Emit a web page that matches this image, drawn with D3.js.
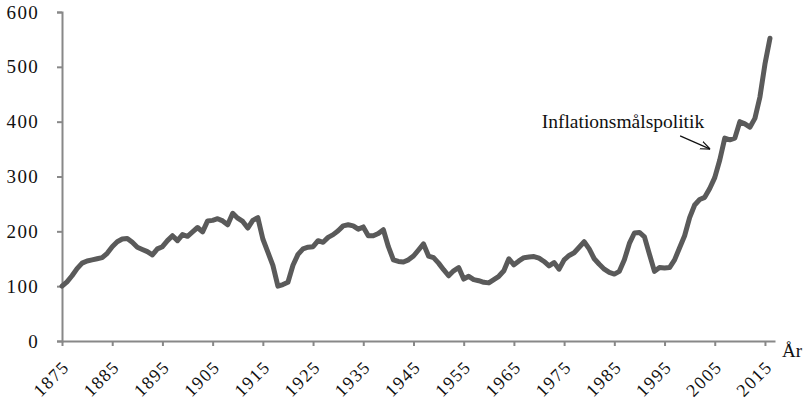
<!DOCTYPE html>
<html>
<head>
<meta charset="utf-8">
<script src="https://cdn.jsdelivr.net/npm/d3@7.9.0/dist/d3.min.js"></script>
<style>
  body { margin: 0; background: #fff; }
  svg text { font-family: 'Liberation Serif', serif; fill: #111; }
</style>
</head>
<body>
<svg id="chart" width="811" height="402"></svg>
<script>
// index value per year, 1875 = 100
const firstYear = 1875;
const values = [
  100, 108, 119, 132, 142, 146, 148, 150, 152, 160,   // 1875-1884
  172, 181, 186, 187, 180, 171, 167, 163, 157, 168,   // 1885-1894
  172, 183, 192, 183, 194, 191, 199, 207, 199, 219,   // 1895-1904
  220, 223, 219, 212, 233, 224, 218, 206, 220, 225,   // 1905-1914
  186, 162, 138, 100, 103, 107, 138, 158, 168, 171,   // 1915-1924
  172, 183, 180, 189, 194, 201, 210, 212, 210, 204,   // 1925-1934
  208, 192, 192, 196, 203, 172, 148, 145, 144, 148,   // 1935-1944
  155, 166, 177, 155, 152, 142, 130, 119, 128, 134,   // 1945-1954
  113, 118, 112, 110, 107, 106, 112, 118, 128, 150,   // 1955-1964
  139, 146, 152, 153, 154, 151, 145, 137, 143, 131,   // 1965-1974
  148, 156, 161, 171, 181, 168, 150, 140, 131, 125,   // 1975-1984
  122, 127, 148, 178, 197, 198, 190, 158, 127, 134,   // 1985-1994
  133, 134, 148, 170, 192, 225, 248, 258, 262, 278,   // 1995-2004
  298, 330, 370, 367, 370, 400, 396, 390, 406, 445,   // 2005-2014
  505, 552                                            // 2015-2016
];
const years = d3.range(firstYear, firstYear + values.length);
const xTicks = d3.range(1875, 2016, 10);
const yTicks = [0, 100, 200, 300, 400, 500, 600];
const annotation = 'Inflationsmålspolitik';
const xTitle = 'År';

const svg = d3.select('#chart');

const x = d3.scaleLinear().domain([1875, 2017]).range([62, 775]);
const y = d3.scaleLinear().domain([0, 600]).range([341, 12]);

const axisColor = '#888';

// y axis
const yAxis = svg.append('g')
  .attr('transform', `translate(${x(1875)},0)`)
  .call(d3.axisLeft(y).tickValues(yTicks).tickSize(5).tickPadding(18));
yAxis.select('.domain').attr('stroke', axisColor).attr('stroke-width', 2);
yAxis.selectAll('.tick line').attr('stroke', axisColor).attr('stroke-width', 2);
yAxis.selectAll('.tick text')
  .style('font-family', "'Liberation Serif', serif")
  .style('font-size', '19px')
  .style('letter-spacing', '1.3px')
  .attr('fill', '#111');

// x axis
const xAxis = svg.append('g')
  .attr('transform', `translate(0,${y(0)})`)
  .call(d3.axisBottom(x).tickValues(xTicks).tickFormat(d3.format('d')).tickSize(5).tickSizeOuter(0));
xAxis.select('.domain').attr('stroke', axisColor).attr('stroke-width', 2);
xAxis.selectAll('.tick line').attr('stroke', axisColor).attr('stroke-width', 2);
xAxis.selectAll('.tick text')
  .style('font-family', "'Liberation Serif', serif")
  .style('font-size', '18px')
  .style('letter-spacing', '1.5px')
  .attr('fill', '#111')
  .attr('text-anchor', 'end')
  .attr('dy', null)
  .attr('y', null)
  .attr('transform', 'translate(8,27) rotate(-45)');

svg.append('text')
  .attr('x', x(2017) + 7)
  .attr('y', y(0) + 16)
  .style('font-size', '19px')
  .text(xTitle);

// series
const line = d3.line()
  .x((d, i) => x(years[i]))
  .y((d) => y(d));

svg.append('path')
  .datum(values)
  .attr('d', line)
  .attr('fill', 'none')
  .attr('stroke', '#5a5a5a')
  .attr('stroke-width', 5)
  .attr('stroke-linejoin', 'round')
  .attr('stroke-linecap', 'round');

// annotation
svg.append('defs').append('marker')
  .attr('id', 'arrow')
  .attr('viewBox', '0 0 10 10')
  .attr('refX', 10).attr('refY', 5)
  .attr('markerWidth', 10).attr('markerHeight', 10)
  .attr('markerUnits', 'userSpaceOnUse')
  .attr('orient', 'auto')
  .append('path')
  .attr('d', 'M0,1 L10,5 L0,9')
  .attr('fill', 'none')
  .attr('stroke', '#111')
  .attr('stroke-width', 1.2);

svg.append('text')
  .attr('x', x(2002.9))
  .attr('y', y(389))
  .attr('text-anchor', 'end')
  .style('font-size', '19.5px')
  .text(annotation);

svg.append('line')
  .attr('x1', x(1998.1)).attr('y1', y(374))
  .attr('x2', x(2004.1)).attr('y2', y(350))
  .attr('stroke', '#111')
  .attr('stroke-width', 1.2)
  .attr('marker-end', 'url(#arrow)');
</script>
</body>
</html>
